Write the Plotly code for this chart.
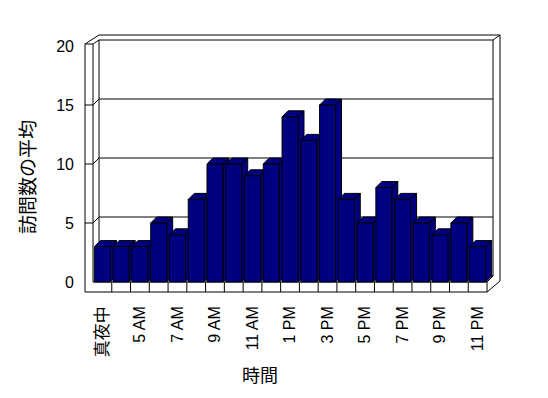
import plotly.graph_objects as go

# ---- data ----
hours = ["真夜中", "4 AM", "5 AM", "6 AM", "7 AM", "8 AM", "9 AM", "10 AM", "11 AM", "正午",
         "1 PM", "2 PM", "3 PM", "4 PM", "5 PM", "6 PM", "7 PM", "8 PM", "9 PM", "10 PM", "11 PM"]
visits = [3, 3, 3, 5, 4, 7, 10, 10, 9, 10, 14, 12, 15, 7, 5, 8, 7, 5, 4, 5, 3]
y_ticks = [0, 5, 10, 15, 20]
x_title = "時間"
y_title = "訪問数の平均"

# ---- geometry (layout only) ----
W, H = 548, 398
L, R, T, B = 80, 506, 30, 296          # plot area in pixels
X0_PX, X_STEP = 102.4, 18.762          # pixel of category 0, pixels per category
Y0_PX, Y_STEP = 282.0, 11.8            # pixel of value 0, pixels per unit


def xd(px):
    return (px - X0_PX) / X_STEP


def yd(py):
    return (Y0_PX - py) / Y_STEP


def xp(px):
    return (px - L) / (R - L)


def yp(py):
    return (B - py) / (B - T)


xr = [xd(L), xd(R)]
yr = [yd(B), yd(T)]
BAR_W = 0.85
DX = 6 / X_STEP
DY = 6 / Y_STEP
NAVY = "#000080"
n = len(hours)
FL, FR = -0.5, n - 0.5

fig = go.Figure()

# side + top faces of each column (drawn under the front faces)
for i, v in enumerate(visits):
    r = i + BAR_W / 2
    l = i - BAR_W / 2
    xs = [r, r, r + DX, r + DX, r, None, l, l + DX, r + DX, r, l]
    ys = [0, v, v + DY, DY, 0, None, v, v + DY, v + DY, v, v]
    fig.add_trace(go.Scatter(x=xs, y=ys, mode="lines", fill="toself", fillcolor=NAVY,
                             line=dict(color="black", width=1), hoverinfo="skip",
                             showlegend=False, xaxis="x", yaxis="y"))

# front faces
fig.add_trace(go.Bar(x=list(range(n)), y=visits, width=BAR_W,
                     marker=dict(color=NAVY, line=dict(color="black", width=1)),
                     showlegend=False, xaxis="x2", yaxis="y2"))

shapes = []


def seg(x1, y1, x2, y2):
    shapes.append(dict(type="line", xref="x", yref="y", x0=x1, y0=y1, x1=x2, y1=y2,
                       line=dict(color="black", width=1), layer="below"))


top = yd(44)
lw_out = xd(85)
bw_l, bw_r = FL + DX, FR + DX
bw_top = 20 + DY
out_dx, out_dy = 7 / X_STEP, 5 / Y_STEP
floor_b = yd(292)

# left wall
seg(lw_out, top, lw_out, floor_b)
seg(FL, top, FL, 0)
seg(lw_out, top, FL, top)
seg(lw_out, top, bw_l, bw_top + out_dy)
seg(FL, top, bw_l, bw_top)
# back wall
seg(bw_l, bw_top + out_dy, bw_r + out_dx, bw_top + out_dy)
seg(bw_l, bw_top, bw_r, bw_top)
seg(bw_r, bw_top, bw_r + out_dx, bw_top + out_dy)
seg(bw_l, bw_top, bw_l, DY)
seg(bw_r, bw_top, bw_r, DY)
seg(bw_r + out_dx, bw_top + out_dy, bw_r + out_dx, yd(281))
seg(bw_l, DY, bw_r, DY)
# floor
seg(lw_out, floor_b, FR, floor_b)
seg(FL, 0, FR, 0)
seg(FR, 0, FR, floor_b)
seg(FR, floor_b, bw_r + out_dx, yd(281))
seg(FR, 0, bw_r, DY)
for k in range(n - 1):
    seg(k + 0.5, 0, k + 0.5, floor_b)
# grid lines
for v in y_ticks[1:-1]:
    seg(lw_out, v, FL, v)
    seg(FL, v, bw_l, v + DY)
    seg(bw_l, v + DY, bw_r, v + DY)

tick_font = dict(family="Liberation Sans, Noto Sans CJK JP", size=16, color="black")
title_font = dict(family="Noto Sans CJK JP, Liberation Sans", size=18, color="black")


def tick_label(s):
    if s.isascii():
        return s
    return "<span style='font-family:Noto Sans CJK JP;font-size:17px;color:black'>" + s + "</span>"


fig.update_layout(
    width=W, height=H,
    margin=dict(l=L, r=W - R, t=T, b=H - B, pad=0),
    paper_bgcolor="white", plot_bgcolor="white",
    showlegend=False,
    shapes=shapes,
    xaxis=dict(range=xr, tickmode="array", tickvals=list(range(0, n, 2)),
               ticktext=[tick_label(hours[i]) for i in range(0, n, 2)], tickangle=-90,
               showgrid=False, zeroline=False, showline=False, ticks="",
               ticklabelstandoff=6, tickfont=tick_font, fixedrange=True),
    yaxis=dict(range=yr, tickmode="array", tickvals=y_ticks,
               showgrid=False, zeroline=False, showline=False, ticks="",
               ticklabelstandoff=5, tickfont=tick_font, fixedrange=True),
    xaxis2=dict(range=xr, overlaying="x", visible=False, fixedrange=True),
    yaxis2=dict(range=yr, overlaying="y", visible=False, fixedrange=True),
    annotations=[
        dict(text=y_title, xref="paper", yref="paper", x=xp(27), y=yp(177),
             xanchor="center", yanchor="middle", textangle=-90, showarrow=False,
             font=dict(family="Noto Sans CJK JP", size=19, color="black")),
        dict(text=x_title, xref="paper", yref="paper", x=xp(260), y=yp(374),
             xanchor="center", yanchor="middle", showarrow=False, font=title_font),
    ],
)

fig.write_html("out.html")
